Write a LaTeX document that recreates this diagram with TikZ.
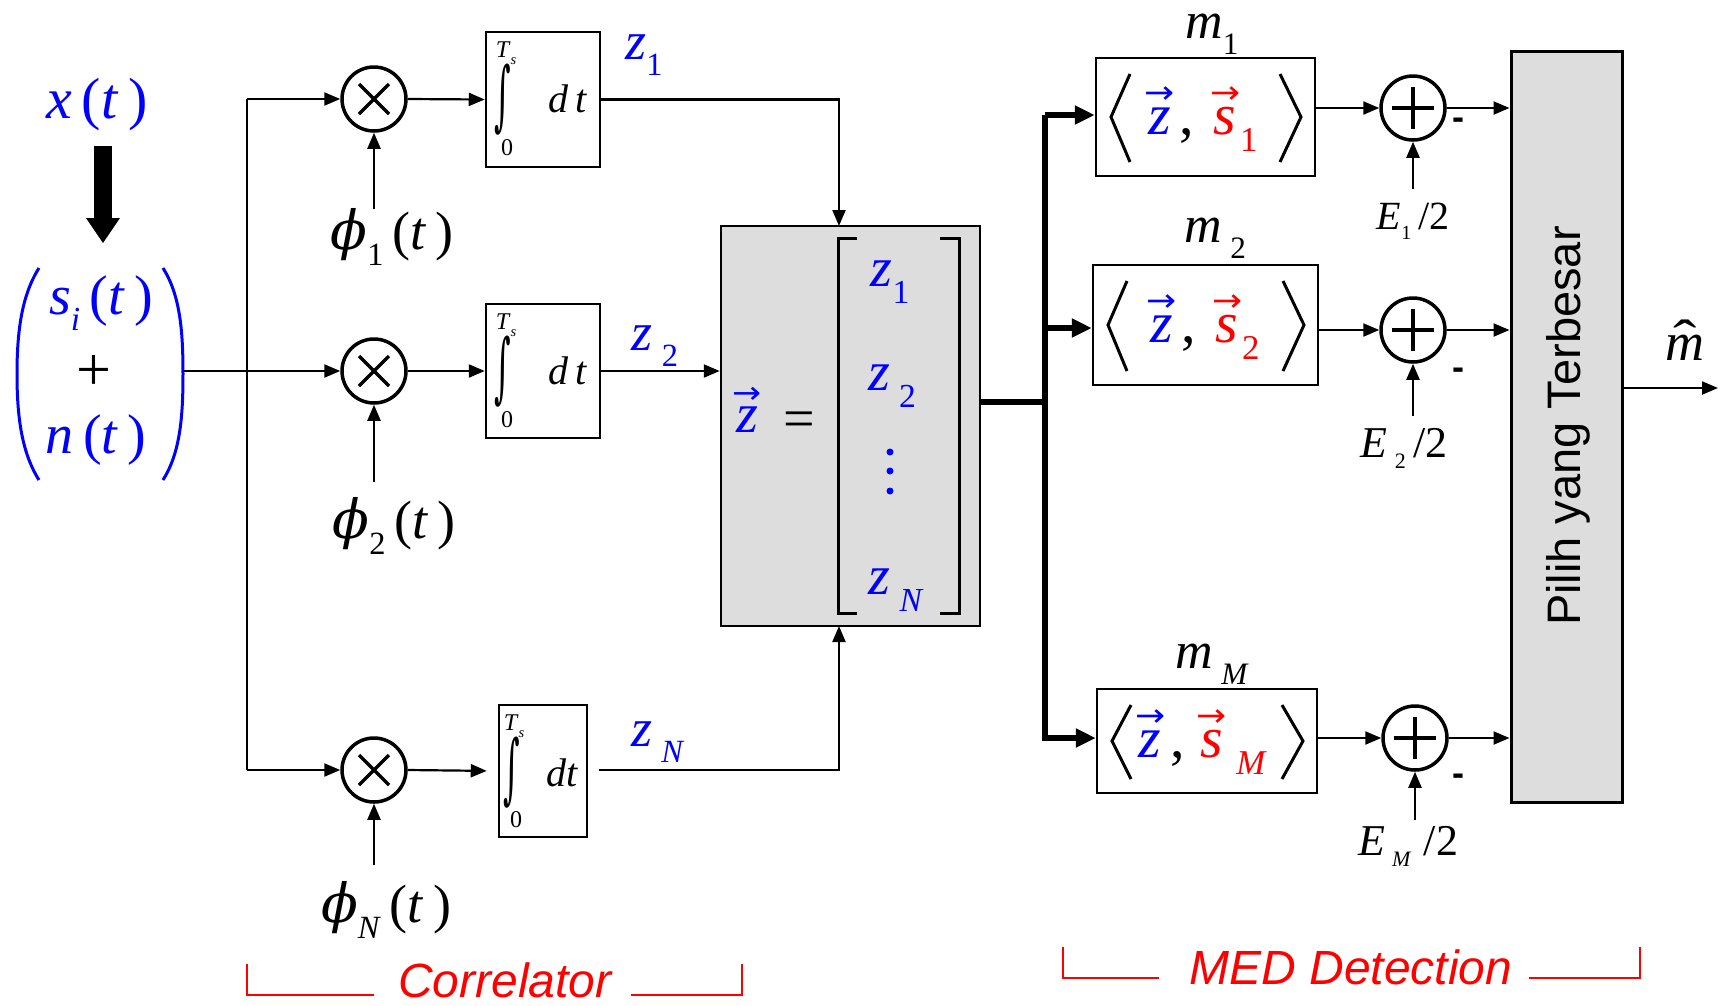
\documentclass[tikz,border=0pt]{standalone}
\usepackage{fontspec}
\setmainfont{Liberation Serif}
\newfontfamily\arialf{Liberation Sans}
\newfontfamily\djs{DejaVu Serif}
\newfontfamily\djsans{DejaVu Sans}
\usetikzlibrary{arrows.meta,calc}
\definecolor{gfill}{HTML}{DDDDDD}
\newcommand\fsz[1]{\fontsize{#1}{#1}\selectfont}
\newcommand\mysub[1]{\raisebox{-0.3em}{\scalebox{0.6}{#1}}}
\newcommand\mysubs[1]{\raisebox{-0.25em}{\scalebox{0.5}{#1}}}
\newcommand\myacc[3]{\leavevmode\vbox{\offinterlineskip\halign{\hfil##\hfil\cr#1\cr\noalign{\kern#3}\textit{#2}\cr}}}
\newcommand\myvec[1]{\myacc{\djsans\scalebox{0.62}[0.55]{→}}{#1}{0.06em}}
\newcommand\myphi{{\djs\itshape ϕ}}
\newcommand\myint{{\djs\scalebox{0.8}[1.9]{∫}}}
\tikzset{
  wire/.style={line width=2.2pt},
  arr/.style={wire,-{Triangle[length=16pt,width=13pt]}},
  bigarr/.style={line width=5.5pt,-{Triangle[length=20pt,width=18pt]}},
  blk/.style={draw,line width=2.5pt,inner sep=0pt},
  circ/.style={draw,circle,line width=3.5pt,minimum size=64pt,inner sep=0pt},
  lbl/.style={inner sep=0pt},
  sym/.style={line width=3.5pt},
  redl/.style={draw=red,line width=2pt},
}
\begin{document}
\begin{tikzpicture}[x=1pt,y=-1pt]
\useasboundingbox (0,0) rectangle (1727,1005);

% ---------- input ----------
\node[lbl,text=blue] (xt) at (97,105) {\fsz{58}\textit{x}\,(\textit{t}\,)};
\fill (94,146) rectangle (112,219);
\fill (86,218) -- (120,218) -- (103,243) -- cycle;
\draw[blue,line width=3pt] (39,268) .. controls (22,295) and (17,330) .. (17,374) .. controls (17,418) and (22,453) .. (39,480);
\draw[blue,line width=3pt] (163,268) .. controls (180,295) and (183,330) .. (183,374) .. controls (183,418) and (180,453) .. (163,480);
\node[lbl,text=blue] (si) at (101,303) {\fsz{56}\textit{s}\mysub{\textit{i}}\,(\textit{t}\,)};
\node[lbl] (plus) at (94,373) {\fsz{62}+};
\node[lbl,text=blue] (nt) at (96,440) {\fsz{56}\textit{n}\,(\textit{t}\,)};
\coordinate (inp) at (183,371);
\coordinate (bt) at (247,99);
\coordinate (bm) at (247,371);
\coordinate (bb) at (247,770);

% ---------- multipliers ----------
\node[circ] (x1) at (374,99) {};
\node[circ] (x2) at (374,371) {};
\node[circ] (xN) at (374,770) {};
\foreach \n in {x1,x2,xN}{
  \draw[sym] ($(\n)+(-15,-15)$) -- ($(\n)+(15,15)$);
  \draw[sym] ($(\n)+(-15,15)$) -- ($(\n)+(15,-15)$);
}
\node[lbl] (p1) at (392,237) {\fsz{54}\myphi\mysub{1}\,(\textit{t}\,)};
\node[lbl] (p2) at (394,526) {\fsz{54}\myphi\mysub{2}\,(\textit{t}\,)};
\node[lbl] (pN) at (386,910) {\fsz{54}\myphi\mysub{\textit{N}}\,(\textit{t}\,)};
\coordinate (p1t) at (374,209);
\coordinate (p2t) at (374,482);
\coordinate (pNt) at (374,865);

\draw[wire] (inp) -- (bm);
\draw[wire] (bt) -- (bb);
\draw[arr] (bt) -- (x1.west);
\draw[arr] (bm) -- (x2.west);
\draw[arr] (bb) -- (xN.west);
\draw[arr] (p1t) -- (x1.south);
\draw[arr] (p2t) -- (x2.south);
\draw[arr] (pNt) -- (xN.south);

% ---------- integrators ----------
\node[blk,minimum width=114pt,minimum height=135pt] (i1) at (543,99.5) {};
\node[blk,minimum width=114pt,minimum height=134pt] (i2) at (543,371) {};
\node[blk,minimum width=88pt,minimum height=132pt] (iN) at (543,771) {};
\foreach \n/\L/\T in {a/486/32, b/486/304}{
  \node[lbl] (ts\n) at (\L+20,\T+21) {\fsz{24}\textit{T}\mysub{\textit{s}}};
  \node[lbl] (in\n) at (\L+17,\T+68) {\fsz{40}\myint};
  \node[lbl] (ze\n) at (\L+21,\T+116) {\fsz{24}0};
  \node[lbl] (dt\n) at (\L+82,\T+67) {\fsz{40}\textit{d\,t}};
}
\node[lbl] (tsc) at (514,726) {\fsz{24}\textit{T}\mysub{\textit{s}}};
\node[lbl] (inc) at (512,773) {\fsz{40}\myint};
\node[lbl] (zec) at (516,820) {\fsz{24}0};
\node[lbl] (dtc) at (562,773) {\fsz{40}\textit{dt}};

\draw[arr] (x1.east) -- (i1.west);
\draw[arr] (x2.east) -- (i2.west);
\draw[arr,shorten >=11pt] (xN.east) -- (iN.west);

% ---------- vector box ----------
\node[blk,fill=gfill,minimum width=259pt,minimum height=400pt] (mat) at (850.5,426) {};
\draw[line width=3pt] (857,238) -- (838,238) -- (838,613) -- (857,613);
\draw[line width=3pt] (940,238) -- (959,238) -- (959,613) -- (940,613);
\node[lbl,text=blue] (zv) at (747,410) {\fsz{56}\myvec{z}};
\node[lbl] (eq) at (799,425) {\fsz{56}=};
\node[lbl,text=blue] (mz1) at (890,282) {\fsz{56}\textit{z}\mysub{1}};
\node[lbl,text=blue] (mz2) at (892,386) {\fsz{56}\textit{z}\,\mysub{2}};
\node[lbl,text=blue] (mzN) at (896,590) {\fsz{56}\textit{z}\,\mysub{\textit{N}}};
\fill[blue] (890,452) circle (3.5) (890,471) circle (3.5) (890,491) circle (3.5);

\coordinate (mtop) at (839,226);
\coordinate (mbot) at (839,626);
\draw[arr] (i1.east) -| (mtop);
\draw[arr] (i2.east) -- (i2.east -| mat.west);
\draw[arr,shorten <=11pt] (iN.east |- xN.east) -| (mbot);
\node[lbl,text=blue] (z1) at (644,55) {\fsz{54}\textit{z}\mysub{1}};
\node[lbl,text=blue] (z2) at (655,346) {\fsz{54}\textit{z}\,\mysub{2}};
\node[lbl,text=blue] (zN) at (658,742) {\fsz{54}\textit{z}\,\mysub{\textit{N}}};

% ---------- inner products ----------
\node[blk,minimum width=219pt,minimum height=118pt] (mb1) at (1205.5,117) {};
\node[blk,minimum width=225pt,minimum height=120pt] (mb2) at (1205.5,325) {};
\node[blk,minimum width=220pt,minimum height=104pt] (mbM) at (1207,741) {};
\foreach \L/\R/\T/\B in {1096/1315/58/176, 1093/1318/265/385, 1097/1317/689/793}{
  \draw[line width=3pt] (\L+34,\T+16) -- (\L+15,{(\T+\B)/2}) -- (\L+34,\B-14);
  \draw[line width=3pt] (\R-35,\T+16) -- (\R-14,{(\T+\B)/2}) -- (\R-35,\B-14);
}
\node[lbl,anchor=base] (ip1) at (1201,134) {\fsz{58}{\color{blue}\myvec{z}}\hspace{5pt},\hspace{16pt}{\color{red}\myvec{s}\mysub{1}}};
\node[lbl,anchor=base] (ip2) at (1203,342) {\fsz{58}{\color{blue}\myvec{z}}\hspace{5pt},\hspace{16pt}{\color{red}\myvec{s}\mysub{2}}};
\node[lbl,anchor=base] (ipM) at (1201,757) {\fsz{58}{\color{blue}\myvec{z}}\hspace{5pt},\hspace{12pt}{\color{red}\myvec{s}\,\mysub{\textit{M}}}};
\node[lbl] (m1) at (1212,34) {\fsz{52}\textit{m}\mysub{1}};
\node[lbl] (m2) at (1215,238) {\fsz{52}\textit{m}\,\mysub{2}};
\node[lbl] (mM) at (1212,664) {\fsz{52}\textit{m}\,\mysub{\textit{M}}};

\coordinate (mo) at (981,402);
\coordinate (bj) at (1045,402);
\draw[line width=5.5pt] (mo) -- (bj);
\draw[line width=5.5pt] (1045,115) -- (1045,741);
\draw[bigarr] (1045,115) -- (mb1.west |- 0,115);
\draw[bigarr] (1045,328) -- (mb2.west |- 0,328);
\draw[bigarr] (1045,738) -- (mbM.west |- 0,738);

% ---------- sums ----------
\node[circ] (s1) at (1413,108) {};
\node[circ] (s2) at (1413,330) {};
\node[circ] (sM) at (1415,738) {};
\foreach \n in {s1,s2,sM}{
  \draw[sym] ($(\n)+(-21,0)$) -- ($(\n)+(21,0)$);
  \draw[sym] ($(\n)+(0,-21)$) -- ($(\n)+(0,21)$);
}
\draw[arr] (mb1.east |- s1.west) -- (s1.west);
\draw[arr] (mb2.east |- s2.west) -- (s2.west);
\draw[arr] (mbM.east |- sM.west) -- (sM.west);

\node[lbl] (e1) at (1413,221) {\fsz{40}\textit{E}\mysubs{1}\,/2};
\node[lbl] (e2) at (1404,448) {\fsz{44}\textit{E}\,\mysubs{2}\,/2};
\node[lbl] (eM) at (1408,846) {\fsz{44}\textit{E}\,\mysubs{\textit{M}}\;/2};
\coordinate (e1t) at (1413,189);
\coordinate (e2t) at (1413,416);
\coordinate (eMt) at (1415,820);
\draw[arr] (e1t) -- (s1.south);
\draw[arr] (e2t) -- (s2.south);
\draw[arr] (eMt) -- (sM.south);
\node[lbl] (n1) at (1458,124) {\arialf\bfseries\fsz{36}-};
\node[lbl] (n2) at (1458,374) {\arialf\bfseries\fsz{36}-};
\node[lbl] (nM) at (1458,780) {\arialf\bfseries\fsz{36}-};

% ---------- selector ----------
\node[blk,fill=gfill,line width=3pt,minimum width=111pt,minimum height=751pt] (pb) at (1566.5,426.5) {};
\node[lbl,rotate=90] (pt) at (1568,426) {\arialf\fsz{47}Pilih yang Terbesar};
\draw[arr] (s1.east) -- (s1.east -| pb.west);
\draw[arr] (s2.east) -- (s2.east -| pb.west);
\draw[arr] (sM.east) -- (sM.east -| pb.west);
\coordinate (out) at (1718,388);
\draw[arr] (pb.east |- out) -- (out);
\node[lbl] (mh) at (1685,348) {\fsz{54}\myacc{\smash{\raisebox{-0.42em}{\scalebox{1.3}[1]{ˆ}}}}{m}{0em}};

% ---------- group labels ----------
\draw[redl] (247,964) -- (247,995) -- (374,995);
\draw[redl] (631,995) -- (742,995) -- (742,964);
\node[lbl,text=red] (cor) at (505,980) {\arialf\itshape\fsz{48}Correlator};
\draw[redl] (1063,947) -- (1063,978) -- (1159,978);
\draw[redl] (1529,978) -- (1640,978) -- (1640,947);
\node[lbl,text=red] (med) at (1351,967) {\arialf\itshape\fsz{48}MED Detection};
\end{tikzpicture}
\end{document}
